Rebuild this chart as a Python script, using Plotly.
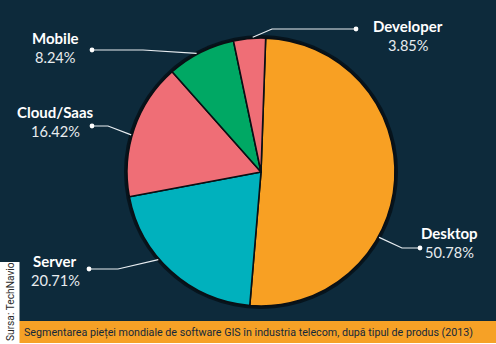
import math
import plotly.graph_objects as go

# Market share by product type (percent)
segments = ["Desktop", "Server", "Cloud/Saas", "Mobile", "Developer"]
shares = [50.78, 20.71, 16.42, 8.24, 3.85]
slice_colors = ["#f8a023", "#00b1bd", "#ef6e76", "#00a864", "#ef6e76"]

caption = ("Segmentarea pieței mondiale de software GIS în industria telecom, "
           "după tipul de produs (2013)")
source = "Sursa: TechNavio"

W, H = 496, 344
NAVY = "#0d2a3b"
ORANGE = "#f6a126"

# Pie geometry in pixels
CX, CY, R = 261, 172, 134
ROT = 2  # degrees clockwise from 12 o'clock where the first slice starts

# Label layout: text centre, dot position, elbow x, anchor fraction within slice
label_layout = {
    "Desktop":    dict(tx=449, ty=233, dx=420, dy=248, ex=402, frac=0.64),
    "Server":     dict(tx=55,  ty=261, dx=89,  dy=269, ex=118, frac=0.60),
    "Cloud/Saas": dict(tx=55,  ty=112, dx=92,  dy=126, ex=108, frac=0.45),
    "Mobile":     dict(tx=55,  ty=38,  dx=92,  dy=50,  ex=143, frac=0.44),
    "Developer":  dict(tx=408, ty=26,  dx=356, dy=29,  ex=272, frac=0.60),
}

fig = go.Figure()

fig.add_trace(go.Pie(
    labels=segments,
    values=shares,
    sort=False,
    direction="clockwise",
    rotation=ROT,
    marker=dict(colors=slice_colors, line=dict(color="#0a0f14", width=1.6)),
    textinfo="none",
    hoverinfo="label+percent",
    showlegend=False,
    domain=dict(x=[(CX - R) / W, (CX + R) / W],
                y=[1 - (CY + R) / H, 1 - (CY - R) / H]),
))

shapes = [
    # dark panel
    dict(type="rect", xref="x", yref="y", x0=0, x1=W, y0=0, y1=321,
         fillcolor=NAVY, line=dict(width=0), layer="below"),
    # white box holding the source note
    dict(type="rect", xref="x", yref="y", x0=0, x1=19.5, y0=262, y1=H,
         fillcolor="#ffffff", line=dict(width=0), layer="below"),
    # caption band
    dict(type="rect", xref="x", yref="y", x0=19.5, x1=W, y0=321, y1=343,
         fillcolor=ORANGE, line=dict(width=0), layer="below"),
    # soft shadow ring around the pie
    dict(type="circle", xref="x", yref="y", x0=CX - R - 3, x1=CX + R + 3,
         y0=CY - R - 3, y1=CY + R + 3, fillcolor="#06141d",
         line=dict(width=0), layer="below"),
]

annotations = []
total = sum(shares)
start = ROT
for name, val in zip(segments, shares):
    span = 360.0 * val / total
    lay = label_layout[name]
    ang = math.radians(start + span * lay["frac"])
    ax = CX + (R + 1) * math.sin(ang)
    ay = CY - (R + 1) * math.cos(ang)
    start += span
    # leader: pie edge -> elbow -> dot
    shapes.append(dict(type="path", xref="x", yref="y",
                       path=f"M {ax:.1f},{ay:.1f} L {lay['ex']},{lay['dy']} L {lay['dx']},{lay['dy']}",
                       line=dict(color="#e9eef2", width=1.2)))
    shapes.append(dict(type="circle", xref="x", yref="y",
                       x0=lay["dx"] - 2.4, x1=lay["dx"] + 2.4,
                       y0=lay["dy"] - 2.4, y1=lay["dy"] + 2.4,
                       fillcolor="#ffffff", line=dict(width=0)))
    annotations.append(dict(x=lay["tx"], y=lay["ty"], xref="x", yref="y",
                            text=f"<b>{name}</b>", showarrow=False,
                            xanchor="center", yanchor="middle",
                            font=dict(family="Lato, Open Sans, sans-serif",
                                      size=15, color="#ffffff")))
    annotations.append(dict(x=lay["tx"], y=lay["ty"] + 19, xref="x", yref="y",
                            text=f"{val:.2f}%", showarrow=False,
                            xanchor="center", yanchor="middle",
                            font=dict(family="Lato, Open Sans, sans-serif",
                                      size=14.6, color="#e8ecef")))

annotations.append(dict(x=22, y=332, xref="x", yref="y", text=caption,
                        showarrow=False, xanchor="left", yanchor="middle",
                        font=dict(family="Roboto, Liberation Sans, sans-serif",
                                  size=10.7, color="#14283a")))
annotations.append(dict(x=10, y=302, xref="x", yref="y", text=source,
                        showarrow=False, textangle=-90,
                        xanchor="center", yanchor="middle",
                        font=dict(family="Roboto, Liberation Sans, sans-serif",
                                  size=10.2, color="#2a2a2a")))

fig.update_layout(
    width=W, height=H,
    margin=dict(l=0, r=0, t=0, b=0),
    paper_bgcolor="#ffffff",
    plot_bgcolor="rgba(0,0,0,0)",
    xaxis=dict(range=[0, W], visible=False, fixedrange=True),
    yaxis=dict(range=[H, 0], visible=False, fixedrange=True),
    shapes=shapes,
    annotations=annotations,
)

fig.write_html("out.html")
